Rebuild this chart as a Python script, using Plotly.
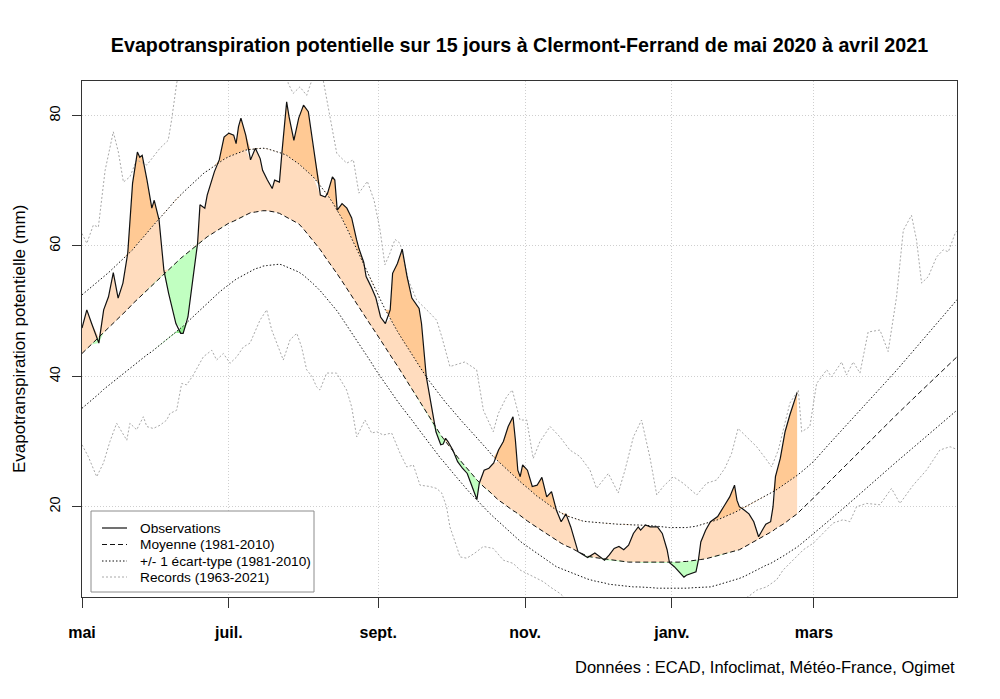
import numpy as np
import pandas as pd
import plotly.graph_objects as go

# ---------------- data ----------------
start = pd.Timestamp("2020-05-01")
tick_dates = ["2020-05-01", "2020-07-01", "2020-09-01", "2020-11-01", "2021-01-01", "2021-03-01"]
tick_labels = ["mai", "juil.", "sept.", "nov.", "janv.", "mars"]
y_ticks = [20, 40, 60, 80]
legend_labels = ["Observations", "Moyenne (1981-2010)", "+/- 1 écart-type (1981-2010)", "Records (1963-2021)"]

# days since 1 May 2020 (shared grid for observations / normals)
days = [0, 2, 4, 7, 9, 11, 13, 15, 17, 19,
        21, 23, 24, 25, 27, 29, 30, 32, 34, 36,
        39, 41, 42, 44, 46, 48, 49, 51, 52, 55,
        57, 59, 61, 63, 64, 65, 66, 68, 70, 72,
        74, 75, 77, 79, 80, 82, 83, 85, 86, 88,
        90, 92, 94, 96, 99, 101, 102, 104, 105, 106,
        108, 110, 112, 114, 115, 117, 118, 120, 122, 124,
        126, 128, 129, 131, 133, 135, 137, 140, 141, 143,
        145, 147, 149, 150, 151, 152, 154, 156, 158, 160,
        162, 164, 165, 167, 169, 171, 173, 175, 177, 179,
        180, 181, 182, 183, 185, 187, 189, 191, 193, 195,
        197, 199, 201, 203, 206, 208, 210, 213, 215, 217,
        219, 221, 223, 225, 227, 229, 231, 232, 234, 236,
        239, 241, 243, 244, 246, 248, 250, 251, 255, 256,
        257, 259, 261, 264, 266, 267, 269, 271, 272, 273,
        275, 277, 279, 280, 281, 283, 284, 286, 287, 288,
        290, 292, 294, 297,
        300, 304, 310, 317, 324, 331, 338, 345, 352, 358, 364]

observations = [47.4, 50.2, 48.1, 45.1, 50.2, 52.2, 55.9, 52.0, 54.3, 58.9,
                69.6, 74.4, 73.6, 73.9, 70.1, 65.8, 67.0, 64.0, 56.3, 52.7,
                48.1, 46.6, 46.6, 49.1, 54.8, 60.4, 66.3, 65.8, 67.8, 71.4,
                73.2, 76.7, 77.3, 77.0, 75.7, 78.3, 79.6, 77.0, 73.2, 75.0,
                73.4, 71.6, 70.1, 68.8, 70.1, 69.8, 74.2, 82.1, 79.8, 76.2,
                79.6, 81.6, 80.6, 75.2, 67.8, 67.5, 68.1, 70.6, 70.1, 65.5,
                66.5, 65.8, 64.3, 61.0, 59.6, 57.5, 55.3, 53.8, 52.1, 49.1,
                48.1, 50.2, 55.8, 57.3, 59.5, 55.3, 52.0, 50.4, 48.1, 39.9,
                35.9, 31.5, 29.5, 29.6, 30.5, 30.0, 28.7, 26.9, 25.9, 25.1,
                23.1, 21.1, 23.6, 25.6, 25.9, 26.7, 28.7, 30.0, 32.3, 33.8,
                30.2, 25.6, 24.6, 26.4, 25.6, 23.1, 23.3, 24.5, 21.5, 22.3,
                19.5, 17.7, 18.9, 16.9, 13.1, 12.7, 12.2, 12.9, 12.4, 11.8,
                12.6, 13.6, 13.9, 13.4, 14.1, 15.9, 16.9, 16.4, 17.2, 16.9,
                16.9, 15.9, 13.4, 11.4, 10.8, 10.0, 9.2, 9.5, 10.0, 11.8,
                14.6, 16.4, 17.7, 18.5, 19.8, 20.3, 21.5, 23.3, 21.0, 20.0,
                19.5, 18.9, 17.7, 16.4, 15.4, 16.7, 17.3, 17.7, 20.0, 24.6,
                27.4, 31.5, 34.1, 37.5]

mean_1981_2010 = [43.5, 44.2, 44.9, 46.0, 46.7, 47.4, 48.1, 48.9, 49.6, 50.3,
                  51.1, 51.8, 52.2, 52.6, 53.3, 54.0, 54.4, 55.1, 55.8, 56.4,
                  57.5, 58.1, 58.4, 59.0, 59.7, 60.3, 60.6, 61.1, 61.4, 62.1,
                  62.6, 63.1, 63.5, 63.8, 64.0, 64.2, 64.3, 64.7, 65.1, 65.2,
                  65.4, 65.4, 65.4, 65.3, 65.2, 65.0, 64.8, 64.4, 64.2, 63.8,
                  63.4, 62.6, 61.7, 60.9, 59.4, 58.3, 57.8, 56.8, 56.2, 55.7,
                  54.6, 53.5, 52.4, 51.3, 50.7, 49.6, 49.0, 47.8, 46.7, 45.5,
                  44.4, 43.3, 42.7, 41.6, 40.4, 39.2, 38.1, 36.3, 35.7, 34.5,
                  33.2, 32.0, 31.0, 30.5, 30.0, 29.6, 28.6, 27.6, 26.7, 25.9,
                  25.0, 24.1, 23.7, 23.0, 22.4, 21.7, 21.0, 20.5, 19.9, 19.4,
                  19.2, 18.9, 18.6, 18.4, 17.8, 17.3, 16.8, 16.3, 15.8, 15.4,
                  14.9, 14.4, 14.0, 13.7, 13.1, 12.8, 12.4, 12.2, 12.1, 11.9,
                  11.8, 11.7, 11.6, 11.6, 11.5, 11.5, 11.5, 11.4, 11.4, 11.4,
                  11.4, 11.4, 11.4, 11.4, 11.4, 11.5, 11.6, 11.6, 11.8, 11.8,
                  11.9, 12.0, 12.2, 12.4, 12.6, 12.7, 13.0, 13.2, 13.3, 13.4,
                  13.8, 14.2, 14.6, 14.8, 15.0, 15.4, 15.7, 16.1, 16.3, 16.6,
                  17.0, 17.5, 18.1, 18.9,
                  20.0, 21.4, 23.7, 26.3, 28.8, 31.4, 34.0, 36.5, 39.0, 41.0, 43.2]

sd_high = [52.5, 53.1, 53.7, 54.7, 55.3, 55.9, 56.6, 57.3, 58.0, 58.7,
           59.4, 60.3, 60.7, 61.2, 62.0, 62.9, 63.3, 64.1, 65.0, 65.8,
           67.1, 67.9, 68.2, 68.9, 69.6, 70.3, 70.7, 71.3, 71.5, 72.3,
           72.8, 73.3, 73.7, 74.0, 74.2, 74.3, 74.4, 74.7, 74.8, 74.9,
           74.9, 75.0, 74.9, 74.7, 74.6, 74.3, 74.2, 73.9, 73.6, 73.1,
           72.6, 71.9, 71.3, 70.6, 69.2, 68.3, 67.8, 66.7, 66.1, 65.6,
           64.2, 62.7, 61.2, 59.6, 58.8, 57.2, 56.4, 54.7, 53.1, 51.7,
           50.2, 48.8, 48.2, 46.9, 45.7, 44.5, 43.4, 41.6, 41.0, 39.9,
           38.9, 37.9, 37.0, 36.5, 36.0, 35.6, 34.7, 33.9, 33.0, 32.2,
           31.4, 30.5, 30.1, 29.3, 28.5, 27.6, 26.9, 26.2, 25.5, 24.8,
           24.5, 24.2, 23.8, 23.5, 22.9, 22.2, 21.6, 21.1, 20.5, 20.0,
           19.5, 19.1, 18.6, 18.4, 18.0, 17.8, 17.7, 17.6, 17.5, 17.5,
           17.4, 17.4, 17.3, 17.3, 17.2, 17.2, 17.2, 17.2, 17.1, 17.1,
           17.0, 16.9, 16.9, 16.8, 16.8, 16.8, 16.8, 16.8, 17.0, 17.1,
           17.2, 17.4, 17.7, 18.0, 18.3, 18.5, 18.8, 19.1, 19.3, 19.5,
           19.8, 20.2, 20.6, 20.8, 21.0, 21.4, 21.7, 22.1, 22.3, 22.5,
           23.0, 23.5, 24.0, 24.8,
           25.7, 27.0, 29.5, 32.3, 35.1, 38.0, 40.8, 43.8, 46.9, 49.4, 52.0]

sd_low = [35.1, 35.7, 36.4, 37.3, 38.0, 38.6, 39.2, 39.8, 40.4, 41.0,
          41.6, 42.1, 42.4, 42.7, 43.3, 43.8, 44.1, 44.7, 45.3, 45.8,
          46.7, 47.4, 47.7, 48.4, 49.1, 49.8, 50.2, 50.9, 51.2, 52.3,
          52.9, 53.5, 54.1, 54.6, 54.9, 55.1, 55.3, 55.8, 56.2, 56.5,
          56.7, 56.9, 57.0, 57.1, 57.1, 57.2, 57.1, 56.8, 56.7, 56.4,
          56.0, 55.5, 54.9, 54.2, 53.1, 52.2, 51.8, 50.9, 50.5, 50.0,
          48.9, 47.8, 46.7, 45.6, 45.1, 43.9, 43.3, 42.2, 41.0, 39.9,
          38.9, 37.8, 37.2, 36.2, 35.2, 34.3, 33.3, 31.8, 31.3, 30.3,
          29.3, 28.3, 27.4, 27.0, 26.5, 26.1, 25.2, 24.3, 23.5, 22.6,
          21.8, 21.0, 20.6, 19.9, 19.1, 18.4, 17.7, 17.0, 16.3, 15.7,
          15.3, 15.0, 14.7, 14.4, 13.9, 13.3, 12.8, 12.3, 11.8, 11.3,
          10.8, 10.5, 10.2, 9.9, 9.4, 9.2, 8.9, 8.6, 8.5, 8.3,
          8.1, 8.0, 7.9, 7.8, 7.8, 7.7, 7.7, 7.7, 7.6, 7.6,
          7.5, 7.5, 7.4, 7.4, 7.4, 7.5, 7.5, 7.5, 7.6, 7.6,
          7.6, 7.7, 7.7, 8.0, 8.2, 8.3, 8.5, 8.8, 8.9, 9.0,
          9.3, 9.7, 10.0, 10.2, 10.4, 10.8, 11.0, 11.3, 11.5, 11.7,
          12.1, 12.6, 13.1, 13.8,
          14.7, 15.9, 17.8, 20.0, 22.3, 24.5, 26.8, 29.0, 31.2, 33.1, 35.0]

record_max_days = [0, 2, 4.7, 6.8, 9.6, 13, 15.1, 17.2, 19.9, 22.7,
                   26.9, 29.6, 32.4, 35.8, 37.2, 39.3, 41, 45, 50, 55,
                   60, 65, 70, 75, 80, 84, 85.7, 87.7, 90.5, 93.3,
                   96, 100.2, 103, 105.8, 109.9, 112.7, 115, 118.5, 121.3, 123.8,
                   125.8, 127.9, 130, 132.1, 135.5, 139, 144.5, 147.3, 149.4, 152.8,
                   159, 161.8, 163.9, 166.7, 170.8, 172.9, 176.4, 178.7, 181.9, 184.7,
                   187.4, 190.2, 194.4, 198.5, 202.6, 206.8, 211, 213.7, 218.6, 222.7,
                   225.5, 229, 232.4, 235.9, 238.7, 241.4, 245.6, 249.7, 255.3, 259.4,
                   263.6, 267, 269.8, 272.5, 276, 280.2, 284.3, 286.4, 289.2, 294,
                   297.5, 298.9, 302.3, 305.1, 309.3, 311.3, 315.5, 317.5, 320.3, 323.1,
                   326.5, 331.4, 334.8, 338.3, 341.1, 344.5, 346.6, 348.7, 351.5, 354.9,
                   357.7, 359.8, 362.6, 364]
record_max = [61.9, 60.4, 63.2, 62.9, 71.6, 77.5, 74.4, 69.8, 70.6, 73.2,
              72.4, 73.7, 75.0, 76.2, 79.3, 84.9, 88.0, 90.0, 92.0, 94.0,
              95.0, 93.0, 96.0, 94.0, 91.0, 88.0, 84.9, 83.4, 84.4, 83.1,
              86.0, 85.4, 79.8, 74.2, 72.7, 73.2, 68.1, 69.9, 67.0, 62.4,
              57.1, 58.9, 61.0, 60.4, 54.8, 51.7, 49.7, 48.6, 46.1, 41.5,
              42.2, 41.5, 41.0, 34.8, 31.5, 34.3, 36.9, 37.9, 33.3, 33.3,
              27.4, 30.0, 32.3, 30.7, 28.7, 27.7, 25.6, 22.8, 25.1, 22.1,
              25.6, 30.7, 33.3, 27.5, 21.8, 23.1, 24.6, 23.6, 21.8, 23.6,
              24.1, 25.9, 28.2, 32.0, 30.7, 29.2, 27.2, 26.1, 28.7, 35.9,
              37.9, 31.5, 32.3, 38.9, 41.0, 39.9, 42.2, 40.2, 42.2, 40.5,
              46.8, 47.1, 43.8, 52.2, 62.4, 64.7, 60.9, 54.3, 55.3, 58.3,
              59.4, 59.1, 61.9, 62.5]

record_min_days = [0, 2.6, 6.1, 8.9, 11.6, 14.4, 16.5, 18.6, 19.9, 22.7,
                   25.5, 26.9, 29.6, 32.4, 35.2, 36.5, 39.3, 41.4, 43.5, 46.2,
                   50.4, 53.9, 55.9, 58.7, 61.5, 64.3, 67, 69.8, 73.9, 76.7,
                   78.8, 80.9, 83.6, 86.4, 89.2, 91.2, 93.3, 95.5, 97.4, 98.8,
                   101.6, 105.7, 109.9, 112, 114.1, 117.5, 120.3, 122.4, 125.1, 128.6,
                   132.1, 134.9, 137.6, 140.4, 144.5, 147.3, 149.4, 151.4, 152.8, 155.6,
                   157, 159.8, 163.2, 166.7, 170.8, 175, 179.1, 181.9, 186, 188.8,
                   191.6, 194.4, 198.5, 202, 210, 220, 230, 240, 250, 260,
                   270, 276.7, 280.2, 284.3, 288.5, 291.2, 295.4, 299.6, 303.7, 307.8,
                   312, 316.1, 318.9, 321.7, 325.8, 331.4, 336.2, 339.7, 345.2, 350.7,
                   356.3, 360.5, 364]
record_min = [29.5, 27.7, 24.6, 26.7, 30.0, 32.8, 31.5, 30.2, 32.8, 31.8,
              33.8, 32.3, 32.0, 32.5, 33.3, 34.3, 34.8, 38.9, 38.7, 40.2,
              43.0, 44.0, 42.5, 43.5, 42.0, 43.0, 44.5, 45.1, 48.6, 50.2,
              47.1, 45.1, 42.5, 45.6, 46.6, 44.5, 41.0, 40.0, 38.4, 37.9,
              40.5, 40.5, 37.9, 35.3, 30.7, 33.3, 31.3, 31.5, 31.0, 31.3,
              28.2, 26.1, 26.4, 23.3, 23.1, 22.8, 22.1, 20.0, 16.9, 13.9,
              12.3, 12.1, 12.9, 13.9, 13.6, 11.8, 11.3, 10.3, 9.5, 9.0,
              8.5, 7.7, 6.7, 5.5, 4.5, 4.0, 3.5, 3.5, 4.0, 4.5,
              5.0, 6.2, 7.2, 7.7, 8.8, 10.3, 11.8, 13.4, 14.4, 15.9,
              17.5, 18.0, 17.7, 20.0, 20.5, 20.3, 22.8, 20.5, 23.3, 25.6,
              28.7, 29.2, 28.7]

# ---------------- derived fill boundaries ----------------
n_obs = len(observations)
d_obs = days[:n_obs]
o = np.array(observations)
m = np.array(mean_1981_2010[:n_obs])
hi = np.array(sd_high[:n_obs])
lo = np.array(sd_low[:n_obs])

peach_top = np.minimum(np.maximum(o, m), hi)
orange_top = np.maximum(o, hi)
green_bot = np.minimum(np.maximum(o, lo), m)
dgreen_bot = np.minimum(o, lo)

tick_vals = [(pd.Timestamp(d) - start).days for d in tick_dates]

FONT = "Liberation Sans, Arial, sans-serif"
fig = go.Figure()


def band(lower, upper, color):
    fig.add_trace(go.Scatter(x=d_obs, y=lower, mode="lines", line=dict(width=0),
                             showlegend=False, hoverinfo="skip"))
    fig.add_trace(go.Scatter(x=d_obs, y=upper, mode="lines", line=dict(width=0),
                             fill="tonexty", fillcolor=color,
                             showlegend=False, hoverinfo="skip"))


band(m, peach_top, "#FFDCBE")
band(hi, orange_top, "#FFC994")
band(green_bot, m, "#C1FFC1")
band(dgreen_bot, lo, "#90EE90")

obs_style = dict(color="#111111", width=1.2)
mean_style = dict(color="#111111", width=1, dash="5px,3px")
sd_style = dict(color="#111111", width=1, dash="1.5px,2px")
rec_style = dict(color="#A8A8A8", width=1, dash="2px,2px")

fig.add_trace(go.Scatter(x=record_max_days, y=record_max, mode="lines", line=rec_style, showlegend=False))
fig.add_trace(go.Scatter(x=record_min_days, y=record_min, mode="lines", line=rec_style, showlegend=False))
fig.add_trace(go.Scatter(x=days, y=sd_high, mode="lines", line=sd_style, showlegend=False))
fig.add_trace(go.Scatter(x=days, y=sd_low, mode="lines", line=sd_style, showlegend=False))
fig.add_trace(go.Scatter(x=days, y=mean_1981_2010, mode="lines", line=mean_style, showlegend=False))
fig.add_trace(go.Scatter(x=d_obs, y=observations, mode="lines", line=obs_style, showlegend=False))

# page body has an 8px margin: size the figure so the plot area lands at x 82-957, y 81-597
fig.update_layout(
    width=992, height=691,
    margin=dict(l=74, r=43, t=73, b=102),
    paper_bgcolor="white", plot_bgcolor="white",
    font=dict(family=FONT, color="black"),
    title=dict(text="Evapotranspiration potentielle sur 15 jours à Clermont-Ferrand de mai 2020 à avril 2021",
               x=0.5, xref="paper", xanchor="center",
               y=1 - 37 / 691, yref="container", yanchor="middle",
               font=dict(family=FONT, size=19.7, weight="bold", color="black")),
    showlegend=False,
)

fig.update_xaxes(
    range=[0, 363.4], tickmode="array", tickvals=tick_vals, ticktext=tick_labels,
    showgrid=True, gridcolor="#CFCFCF", griddash="1px,2px", gridwidth=1,
    zeroline=False, showline=True, mirror=True, linecolor="#333333", linewidth=1,
    ticks="outside", ticklen=10, tickcolor="#333333", tickwidth=1,
    ticklabelstandoff=11,
    tickfont=dict(family=FONT, size=16, weight="bold", color="black"),
)
fig.update_yaxes(
    range=[6.15, 85.3], tickmode="array", tickvals=y_ticks,
    showgrid=True, gridcolor="#CFCFCF", griddash="1px,2px", gridwidth=1,
    zeroline=False, showline=True, mirror=True, linecolor="#333333", linewidth=1,
    ticks="outside", ticklen=9, tickcolor="#333333", tickwidth=1,
    tickangle=-90, ticklabelstandoff=6,
    tickfont=dict(family=FONT, size=14.5, color="black"),
)

fig.add_annotation(text="Evapotranspiration potentielle (mm)", textangle=-90,
                   xref="paper", yref="paper", x=(19 - 82) / 875, y=0.5,
                   xanchor="center", yanchor="middle", showarrow=False,
                   font=dict(family=FONT, size=17, color="black"))
fig.add_annotation(text="Données : ECAD, Infoclimat, Météo-France, Ogimet",
                   xref="paper", yref="paper", x=1.0, y=(597 - 667) / 516,
                   xanchor="right", yanchor="middle", showarrow=False,
                   font=dict(family=FONT, size=16.5, color="black"))

# ---------------- legend box (drawn like the R legend) ----------------
def px_x(p):
    return (p - 82) / 875


def px_y(p):
    return (597 - p) / 516


fig.add_shape(type="rect", xref="paper", yref="paper",
              x0=px_x(91), x1=px_x(314), y0=px_y(592), y1=px_y(511),
              line=dict(color="#8C8C8C", width=1), fillcolor="white", layer="above")
legend_styles = [obs_style, mean_style, sd_style, rec_style]
legend_rows = [528, 544.5, 561, 577]
for label, style, row in zip(legend_labels, legend_styles, legend_rows):
    fig.add_shape(type="line", xref="paper", yref="paper",
                  x0=px_x(102), x1=px_x(127), y0=px_y(row), y1=px_y(row),
                  line=style, layer="above")
    fig.add_annotation(text=label, xref="paper", yref="paper",
                       x=px_x(138), y=px_y(row), xanchor="left", yanchor="middle",
                       showarrow=False, font=dict(family=FONT, size=13.7, color="black"))

fig.write_html("out.html")
